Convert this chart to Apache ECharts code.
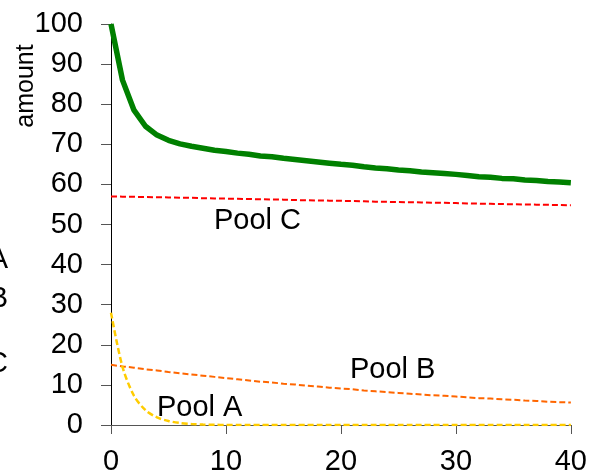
<!DOCTYPE html>
<html>
<head>
<meta charset="utf-8">
<script src="https://cdn.jsdelivr.net/npm/echarts@6/dist/echarts.min.js"></script>
<style>html,body{margin:0;padding:0;background:#fff}#c{width:590px;height:476px}</style>
</head>
<body>
<div id="c"></div>
<script>
var time = [0,1,2,3,4,5,6,7,8,9,10,11,12,13,14,15,16,17,18,19,20,21,22,23,24,25,26,27,28,29,30,31,32,33,34,35,36,37,38,39,40];
var poolA = [28,14.5,7.3,3.7,1.9,1.0,0.5,0.25,0.1,0.05,0,0,0,0,0,0,0,0,0,0,0,0,0,0,0,0,0,0,0,0,0,0,0,0,0,0,0,0,0,0,0];
var poolB = [15.0,14.6,14.3,13.9,13.6,13.2,12.9,12.6,12.3,12.0,11.7,11.4,11.1,10.8,10.6,10.3,10.1,9.8,9.6,9.3,9.1,8.9,8.6,8.4,8.2,8.0,7.8,7.6,7.4,7.3,7.1,6.9,6.7,6.6,6.4,6.3,6.1,6.0,5.8,5.7,5.6];
var poolC = [57.0,56.95,56.9,56.85,56.8,56.75,56.7,56.65,56.55,56.5,56.45,56.4,56.35,56.3,56.25,56.2,56.1,56.05,56.0,55.95,55.9,55.85,55.8,55.7,55.65,55.6,55.55,55.5,55.45,55.4,55.35,55.25,55.2,55.15,55.1,55.05,55.0,54.95,54.9,54.85,54.8];
var total = [100,86.0,78.5,74.5,72.3,71.0,70.1,69.5,69.0,68.5,68.2,67.8,67.5,67.1,66.9,66.5,66.2,65.9,65.6,65.3,65.0,64.8,64.4,64.1,63.9,63.6,63.4,63.1,62.9,62.7,62.5,62.2,61.9,61.8,61.5,61.4,61.1,61.0,60.7,60.6,60.4];
var xTicks = [0,10,20,30,40];
var yTicks = [0,10,20,30,40,50,60,70,80,90,100];

function pairs(v){ return time.map(function(t,i){ return [t, v[i]]; }); }
var FONT = '"Liberation Sans", Arial, sans-serif';

var chart = echarts.init(document.getElementById('c'), null, {renderer:'canvas'});
chart.setOption({
  animation: false,
  backgroundColor: '#ffffff',
  grid: {left: 111, right: 16, top: 24, bottom: 49, containLabel: false},
  xAxis: {
    type: 'value', min: 0, max: 40, interval: 10,
    axisLine: {show: true, onZero: false, lineStyle: {color: '#555', width: 1}},
    axisTick: {show: true, inside: false, length: 9, lineStyle: {color: '#555'}},
    axisLabel: {show: true, margin: 22, color: '#000', fontFamily: FONT, fontSize: 29,
      formatter: function(v){ return xTicks.indexOf(v) >= 0 ? String(v) : ''; }},
    splitLine: {show: false}
  },
  yAxis: {
    type: 'value', min: 0, max: 100, interval: 10,
    axisLine: {show: true, lineStyle: {color: '#000', width: 1}},
    axisTick: {show: true, inside: false, length: 10, lineStyle: {color: '#555'}},
    axisLabel: {show: true, margin: 28, color: '#000', fontFamily: FONT, fontSize: 29,
      formatter: function(v){ return yTicks.indexOf(v) >= 0 ? String(v) : ''; }},
    splitLine: {show: false}
  },
  series: [
    {name: 'Pool C', type: 'line', data: pairs(poolC), showSymbol: false, symbol: 'none',
      lineStyle: {color: '#ff0000', width: 2, type: [6, 3]}, z: 3},
    {name: 'Pool B', type: 'line', data: pairs(poolB), showSymbol: false, symbol: 'none',
      lineStyle: {color: '#ff6600', width: 2, type: [6, 3]}, z: 3},
    {name: 'Pool A', type: 'line', data: pairs(poolA), showSymbol: false, symbol: 'none', smooth: 0.3,
      lineStyle: {color: '#ffcc00', width: 2.5, type: [6, 3]}, z: 4},
    {name: 'Total', type: 'line', data: pairs(total), showSymbol: false, symbol: 'none',
      lineStyle: {color: '#008000', width: 5.5}, z: 5}
  ],
  graphic: [
    {type: 'text', left: 214, top: 206, style: {text: 'Pool C', fontFamily: FONT, fontSize: 29, fill: '#000'}},
    {type: 'text', left: 350, top: 355, style: {text: 'Pool B', fontFamily: FONT, fontSize: 29, fill: '#000'}},
    {type: 'text', left: 157, top: 393, style: {text: 'Pool A', fontFamily: FONT, fontSize: 29, fill: '#000'}},
    {type: 'text', x: 8, y: 260, style: {text: 'Pool A', fontFamily: FONT, fontSize: 29, fill: '#000', align: 'right', verticalAlign: 'middle'}},
    {type: 'text', x: 8, y: 299, style: {text: 'Pool B', fontFamily: FONT, fontSize: 29, fill: '#000', align: 'right', verticalAlign: 'middle'}},
    {type: 'text', x: 8, y: 364, style: {text: 'Pool C', fontFamily: FONT, fontSize: 29, fill: '#000', align: 'right', verticalAlign: 'middle'}},
    {type: 'text', x: 26, y: 86, rotation: Math.PI/2, style: {text: 'amount', fontFamily: FONT, fontSize: 25, fill: '#000', align: 'center', verticalAlign: 'middle'}}
  ]
});
</script>
</body>
</html>
